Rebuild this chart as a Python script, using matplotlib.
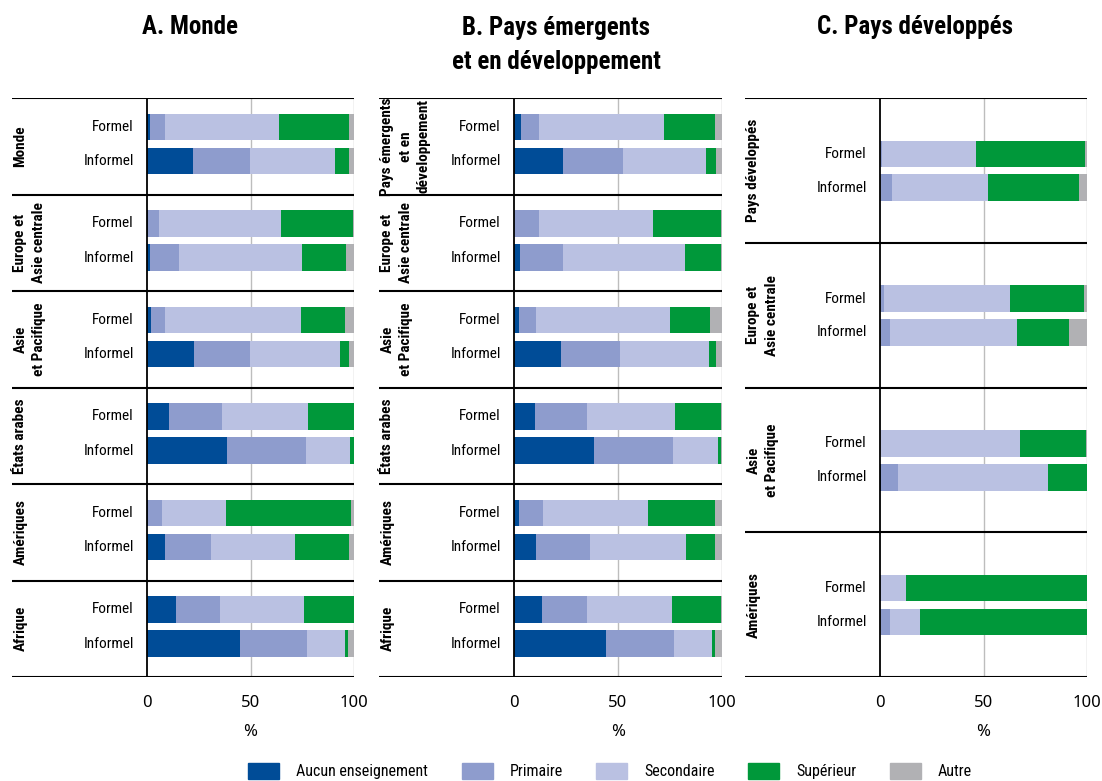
import matplotlib
matplotlib.use("Agg")
import matplotlib.pyplot as plt
import matplotlib.patches as mpatches
import matplotlib.transforms as mtransforms
from matplotlib import font_manager as fm

# ── données (% des travailleurs, Formel / Informel alternés par région) ──
REG_A = ["Monde", "Europe et\nAsie centrale", "Asie\net Pacifique",
         "États arabes", "Amériques", "Afrique"]
REG_B = ["Pays émergents\net en\ndéveloppement", "Europe et\nAsie centrale",
         "Asie\net Pacifique", "États arabes", "Amériques", "Afrique"]
REG_C = ["Pays développés", "Europe et\nAsie centrale", "Asie\net Pacifique",
         "Amériques"]
STATUT = ["Formel", "Informel"]

A_AUCUN = [1.6, 22.3, 0.5, 1.6, 2.1, 22.8, 10.8, 38.7, 0.3, 8.8, 14.1, 44.9]
A_PRIM  = [7.2, 27.5, 5.4, 14.0, 6.7, 27.0, 25.5, 38.0, 7.1, 22.2, 21.2, 32.3]
A_SEC   = [54.9, 40.9, 58.8, 59.2, 65.5, 43.3, 41.4, 21.2, 30.8, 40.4, 40.5, 18.3]
A_SUP   = [33.7, 6.7, 34.7, 21.2, 21.2, 4.3, 22.3, 2.1, 60.2, 26.0, 24.2, 1.4]
A_AUT   = [2.6, 2.6, 0.6, 4.0, 4.5, 2.6, 0.0, 0.0, 1.6, 2.6, 0.0, 3.1]

B_AUCUN = [3.2, 23.4, 0.0, 2.7, 2.2, 22.4, 9.9, 38.3, 2.2, 10.4, 13.3, 44.4]
B_PRIM  = [8.7, 28.8, 11.9, 20.7, 8.2, 28.4, 25.4, 38.0, 11.6, 26.0, 21.6, 32.3]
B_SEC   = [60.1, 39.9, 54.8, 58.7, 64.4, 42.8, 41.9, 21.6, 50.5, 46.1, 40.9, 18.3]
B_SUP   = [24.5, 4.9, 32.7, 17.3, 19.3, 3.4, 22.2, 1.5, 32.2, 14.0, 23.6, 1.5]
B_AUT   = [3.5, 3.0, 0.6, 0.6, 5.9, 3.0, 0.6, 0.6, 3.5, 3.5, 0.6, 3.5]

C_AUCUN = [0.0, 0.0, 0.0, 0.0, 0.0, 0.6, 0.0, 0.0]
C_PRIM  = [1.1, 5.9, 2.1, 5.0, 0.0, 8.2, 0.6, 5.0]
C_SEC   = [45.4, 46.4, 60.8, 61.2, 67.7, 72.4, 12.1, 14.5]
C_SUP   = [52.5, 43.8, 35.7, 25.1, 31.8, 18.8, 87.3, 80.5]
C_AUT   = [1.0, 3.9, 1.4, 8.7, 0.5, 0.0, 0.0, 0.0]

CATS = ["Aucun enseignement", "Primaire", "Secondaire", "Supérieur", "Autre"]
COLORS = ["#004C97", "#8E9CCD", "#BAC1E2", "#00983A", "#B1B1B4"]

# ── police étroite si dispo ──────────────────────────────────────
names = {f.name for f in fm.fontManager.ttflist}
NARROW = {"family": "DejaVu Sans"}
for cand in ["Roboto Condensed", "Liberation Sans Narrow", "Open Sans Condensed"]:
    if cand in names:
        NARROW = {"family": cand}
        break
else:
    if any(f.name == "DejaVu Sans" and f.stretch == "condensed"
           for f in fm.fontManager.ttflist):
        NARROW = {"family": "DejaVu Sans", "stretch": "condensed"}

W, H = 1102, 781
fig = plt.figure(figsize=(W / 100, H / 100), dpi=100)

TOP, BOT = 98, 677
PANELS = [
    # (left px, zero px, right px, regions, series, bar pos, bar height)
    (12, 147, 354, REG_A, [A_AUCUN, A_PRIM, A_SEC, A_SUP, A_AUT], (0.30, 0.653), 0.277),
    (379, 514, 722, REG_B, [B_AUCUN, B_PRIM, B_SEC, B_SUP, B_AUT], (0.30, 0.653), 0.277),
    (745, 880, 1087, REG_C, [C_AUCUN, C_PRIM, C_SEC, C_SUP, C_AUT], (0.386, 0.62), 0.184),
]

for left, zero, right, regs, series, pos, bh in PANELS:
    ax = fig.add_axes([left / W, (H - BOT) / H, (right - left) / W, (BOT - TOP) / H])
    scale = (right - zero) / 100.0
    ax.set_xlim(-(zero - left) / scale, 100)
    n = len(regs)
    ax.set_ylim(n, 0)

    ys = []
    for g in range(n):
        ys += [g + pos[0], g + pos[1]]
    base = [0.0] * len(ys)
    for vals, col in zip(series, COLORS):
        ax.barh(ys, vals, left=base, height=bh, color=col, linewidth=0, zorder=2)
        base = [b + v for b, v in zip(base, vals)]

    for xg in (50, 100):
        ax.plot([xg, xg], [0, n], color="#BDBDBD", lw=1.0, zorder=1)
    ax.plot([0, 0], [0, n], color="black", lw=1.3, zorder=3)
    for g in range(n + 1):
        ax.axhline(g, color="black", lw=1.5, zorder=3)

    trans = mtransforms.blended_transform_factory(ax.transAxes, ax.transData)
    for g, reg in enumerate(regs):
        ax.text(0.004, g + 0.5, reg, transform=trans, rotation=90,
                ha="left", va="center", multialignment="center",
                fontsize=11, fontweight="bold", linespacing=1.38, **NARROW)
    for y, lab in zip(ys, STATUT * n):
        ax.annotate(lab, xy=(0, y), xytext=(-9.5, 0), textcoords="offset points",
                    ha="right", va="center", fontsize=11, **NARROW)

    for s in ax.spines.values():
        s.set_visible(False)
    ax.set_yticks([])
    ax.set_xticks([0, 50, 100])
    ax.set_xticklabels(["0", "50", "100"], fontsize=12, family="Noto Sans")
    ax.tick_params(axis="x", length=0, pad=13)
    ax.annotate("%", xy=(50, 0), xycoords=ax.get_xaxis_transform(),
                xytext=(0, -55 * 0.72), textcoords="offset points",
                ha="center", va="center", fontsize=12, family="Noto Sans")
    ax.set_facecolor("none")

# ── titres ───────────────────────────────────────────────────────
fig.text(190 / W, 1 - 27 / H, "A. Monde", ha="center", va="center",
         fontsize=18, fontweight="bold", **NARROW)
fig.text(556 / W, 1 - 45 / H, "B. Pays émergents\net en développement",
         ha="center", va="center", fontsize=18, fontweight="bold",
         linespacing=1.5, **NARROW)
fig.text(915 / W, 1 - 27 / H, "C. Pays développés", ha="center", va="center",
         fontsize=18, fontweight="bold", **NARROW)

# ── légende ─────────────────────────────────────────────────────
handles = [mpatches.Patch(color=c, label=l) for c, l in zip(COLORS, CATS)]
leg = fig.legend(handles=handles, loc="center", bbox_to_anchor=(610 / W, 10 / H),
                 ncol=5, frameon=False, handlelength=1.95, handleheight=1.25,
                 handletextpad=1.05, columnspacing=2.1, borderaxespad=0,
                 prop=fm.FontProperties(size=11.5, **NARROW))

fig.savefig("out.png", dpi=100)
